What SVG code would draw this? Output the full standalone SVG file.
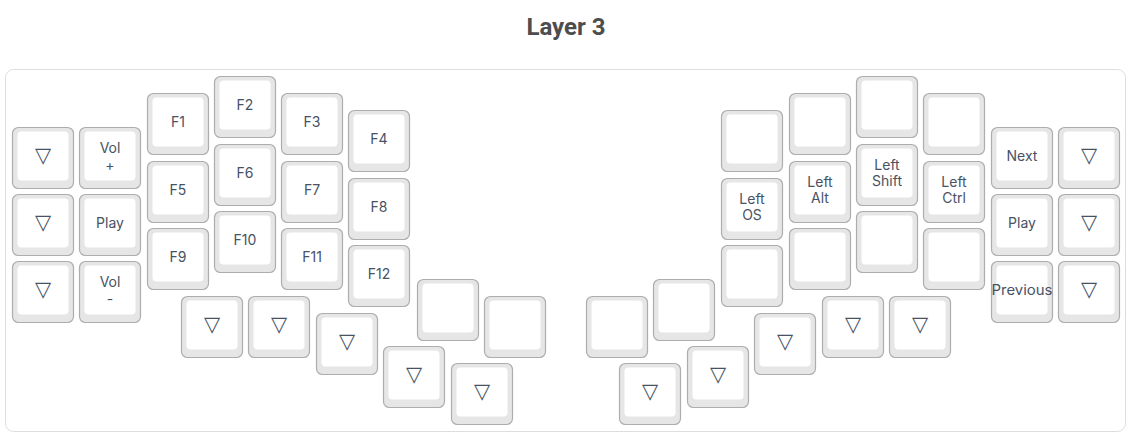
<svg xmlns="http://www.w3.org/2000/svg" xmlns:xlink="http://www.w3.org/1999/xlink" width="1128" height="436" viewBox="0 0 1128 436">
<style>
.title{font-family:Roboto,"Liberation Sans",sans-serif;font-weight:700;font-size:24px;fill:#4d4d4d;text-anchor:middle}
.lbl{font-family:Inter,"Noto Sans","Liberation Sans",sans-serif;font-size:14px;fill:#475264;text-anchor:middle}
.tri{font-family:"DejaVu Sans",sans-serif;font-size:21px;fill:#475264;text-anchor:middle}
.frame{fill:#fff;stroke:#dedede;stroke-width:1}
</style>
<defs>
<g id="cap">
<rect x="0.5" y="0.5" width="61" height="61" rx="6" fill="#e6e6e6" stroke="#adadad" stroke-width="1.2"/>
<rect x="5.5" y="4.5" width="51" height="49" rx="4" fill="#ffffff"/>
</g>
</defs>
<rect width="1128" height="436" fill="#ffffff"/>
<text class="title" x="566" y="35">Layer 3</text>
<rect class="frame" x="5.5" y="69.5" width="1120" height="362" rx="8"/>
<g id="keys">
<g id="k-l0-0"><use href="#cap" x="12" y="127"/><text class="tri" x="43" y="162">▽</text></g>
<g id="k-l0-1"><use href="#cap" x="12" y="194"/><text class="tri" x="43" y="229">▽</text></g>
<g id="k-l0-2"><use href="#cap" x="12" y="261"/><text class="tri" x="43" y="296">▽</text></g>
<g id="k-l1-0"><use href="#cap" x="79" y="127"/><text class="lbl" x="110" y="152.5">Vol</text><text class="lbl" x="110" y="170">+</text></g>
<g id="k-l1-1"><use href="#cap" x="79" y="194"/><text class="lbl" x="110" y="228">Play</text></g>
<g id="k-l1-2"><use href="#cap" x="79" y="261"/><text class="lbl" x="110" y="286.5">Vol</text><text class="lbl" x="110" y="304">-</text></g>
<g id="k-f1"><use href="#cap" x="147" y="93"/><text class="lbl" x="178" y="127">F1</text></g>
<g id="k-f5"><use href="#cap" x="147" y="161"/><text class="lbl" x="178" y="195">F5</text></g>
<g id="k-f9"><use href="#cap" x="147" y="228"/><text class="lbl" x="178" y="262">F9</text></g>
<g id="k-f2"><use href="#cap" x="214" y="76"/><text class="lbl" x="245" y="110">F2</text></g>
<g id="k-f6"><use href="#cap" x="214" y="144"/><text class="lbl" x="245" y="178">F6</text></g>
<g id="k-f10"><use href="#cap" x="214" y="211"/><text class="lbl" x="245" y="245">F10</text></g>
<g id="k-f3"><use href="#cap" x="281" y="93"/><text class="lbl" x="312" y="127">F3</text></g>
<g id="k-f7"><use href="#cap" x="281" y="161"/><text class="lbl" x="312" y="195">F7</text></g>
<g id="k-f11"><use href="#cap" x="281" y="228"/><text class="lbl" x="312" y="262">F11</text></g>
<g id="k-f4"><use href="#cap" x="348" y="110"/><text class="lbl" x="379" y="144">F4</text></g>
<g id="k-f8"><use href="#cap" x="348" y="178"/><text class="lbl" x="379" y="212">F8</text></g>
<g id="k-f12"><use href="#cap" x="348" y="245"/><text class="lbl" x="379" y="279">F12</text></g>
<g id="k-lt0"><use href="#cap" x="181" y="296"/><text class="tri" x="212" y="331">▽</text></g>
<g id="k-lt1"><use href="#cap" x="248" y="296"/><text class="tri" x="279" y="331">▽</text></g>
<g id="k-lt2"><use href="#cap" x="316" y="313"/><text class="tri" x="347" y="348">▽</text></g>
<g id="k-lt3"><use href="#cap" x="383" y="346"/><text class="tri" x="414" y="381">▽</text></g>
<g id="k-lt4"><use href="#cap" x="451" y="363"/><text class="tri" x="482" y="398">▽</text></g>
<g id="k-lt5"><use href="#cap" x="417" y="279"/></g>
<g id="k-lt6"><use href="#cap" x="484" y="296"/></g>
<g id="k-r0-0"><use href="#cap" x="721" y="110"/></g>
<g id="k-r0-1"><use href="#cap" x="721" y="178"/><text class="lbl" x="752" y="203.5">Left</text><text class="lbl" x="752" y="220">OS</text></g>
<g id="k-r0-2"><use href="#cap" x="721" y="245"/></g>
<g id="k-r1-0"><use href="#cap" x="789" y="93"/></g>
<g id="k-r1-1"><use href="#cap" x="789" y="161"/><text class="lbl" x="820" y="186.5">Left</text><text class="lbl" x="820" y="203">Alt</text></g>
<g id="k-r1-2"><use href="#cap" x="789" y="228"/></g>
<g id="k-r2-0"><use href="#cap" x="856" y="76"/></g>
<g id="k-r2-1"><use href="#cap" x="856" y="144"/><text class="lbl" x="887" y="169.5">Left</text><text class="lbl" x="887" y="186">Shift</text></g>
<g id="k-r2-2"><use href="#cap" x="856" y="211"/></g>
<g id="k-r3-0"><use href="#cap" x="923" y="93"/></g>
<g id="k-r3-1"><use href="#cap" x="923" y="161"/><text class="lbl" x="954" y="186.5">Left</text><text class="lbl" x="954" y="203">Ctrl</text></g>
<g id="k-r3-2"><use href="#cap" x="923" y="228"/></g>
<g id="k-r4-0"><use href="#cap" x="991" y="127"/><text class="lbl" x="1022" y="161">Next</text></g>
<g id="k-r4-1"><use href="#cap" x="991" y="194"/><text class="lbl" x="1022" y="228">Play</text></g>
<g id="k-r4-2"><use href="#cap" x="991" y="261"/><text class="lbl" x="1022" y="295" textLength="61" lengthAdjust="spacingAndGlyphs">Previous</text></g>
<g id="k-r5-0"><use href="#cap" x="1058" y="127"/><text class="tri" x="1089" y="162">▽</text></g>
<g id="k-r5-1"><use href="#cap" x="1058" y="194"/><text class="tri" x="1089" y="229">▽</text></g>
<g id="k-r5-2"><use href="#cap" x="1058" y="261"/><text class="tri" x="1089" y="296">▽</text></g>
<g id="k-rt0"><use href="#cap" x="889" y="296"/><text class="tri" x="920" y="331">▽</text></g>
<g id="k-rt1"><use href="#cap" x="822" y="296"/><text class="tri" x="853" y="331">▽</text></g>
<g id="k-rt2"><use href="#cap" x="754" y="313"/><text class="tri" x="785" y="348">▽</text></g>
<g id="k-rt3"><use href="#cap" x="687" y="346"/><text class="tri" x="718" y="381">▽</text></g>
<g id="k-rt4"><use href="#cap" x="619" y="363"/><text class="tri" x="650" y="398">▽</text></g>
<g id="k-rt5"><use href="#cap" x="653" y="279"/></g>
<g id="k-rt6"><use href="#cap" x="586" y="296"/></g>
</g>
</svg>
